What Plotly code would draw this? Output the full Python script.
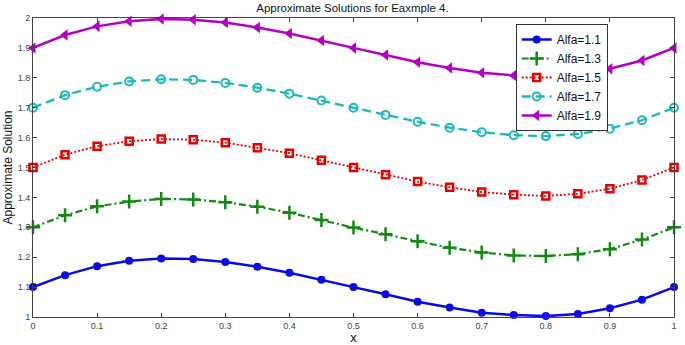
import plotly.graph_objects as go

x = [0, 0.05, 0.1, 0.15, 0.2, 0.25, 0.3, 0.35, 0.4, 0.45, 0.5,
     0.55, 0.6, 0.65, 0.7, 0.75, 0.8, 0.85, 0.9, 0.95, 1.0]

alfa_11 = [1.100, 1.140, 1.170, 1.188, 1.196, 1.194, 1.184, 1.168, 1.148, 1.125, 1.100,
           1.076, 1.051, 1.032, 1.014, 1.007, 1.003, 1.010, 1.029, 1.058, 1.100]
alfa_13 = [1.300, 1.340, 1.370, 1.386, 1.395, 1.393, 1.384, 1.369, 1.349, 1.324, 1.299,
           1.277, 1.253, 1.232, 1.216, 1.206, 1.204, 1.210, 1.227, 1.259, 1.300]
alfa_15 = [1.500, 1.543, 1.571, 1.588, 1.595, 1.593, 1.583, 1.566, 1.548, 1.524, 1.500,
           1.476, 1.453, 1.434, 1.418, 1.409, 1.405, 1.412, 1.429, 1.458, 1.500]
alfa_17 = [1.700, 1.742, 1.770, 1.788, 1.795, 1.793, 1.783, 1.767, 1.747, 1.724, 1.700,
           1.676, 1.653, 1.633, 1.618, 1.608, 1.605, 1.612, 1.630, 1.658, 1.700]
alfa_19 = [1.900, 1.943, 1.972, 1.989, 1.997, 1.994, 1.985, 1.968, 1.948, 1.925, 1.900,
           1.876, 1.852, 1.833, 1.817, 1.808, 1.805, 1.812, 1.830, 1.858, 1.900]

x_ticks = [0, 0.1, 0.2, 0.3, 0.4, 0.5, 0.6, 0.7, 0.8, 0.9, 1]
x_tick_labels = ["0", "0.1", "0.2", "0.3", "0.4", "0.5", "0.6", "0.7", "0.8", "0.9", "1"]
y_ticks = [1, 1.1, 1.2, 1.3, 1.4, 1.5, 1.6, 1.7, 1.8, 1.9, 2]
y_tick_labels = ["1", "1.1", "1.2", "1.3", "1.4", "1.5", "1.6", "1.7", "1.8", "1.9", "2"]

BLUE, GREEN, RED, CYAN, MAGENTA = "#0a0ae6", "#128a12", "#e60000", "#1fb8b8", "#b400c4"

series = [
    ("Alfa=1.1", alfa_11, BLUE, "solid",
     dict(symbol="circle", size=8, color=BLUE), 2.5),
    ("Alfa=1.3", alfa_13, GREEN, "7px,3px,2px,3px",
     dict(symbol="cross-thin", size=10, color=GREEN, line=dict(color=GREEN, width=2.5)), 2.2),
    ("Alfa=1.5", alfa_15, RED, "2px,2px",
     dict(symbol="square-open", size=7, color=RED, line=dict(color=RED, width=2.5)), 1.8),
    ("Alfa=1.7", alfa_17, CYAN, "9px,5px",
     dict(symbol="circle-open", size=8, color=CYAN, line=dict(color=CYAN, width=2)), 2.3),
    ("Alfa=1.9", alfa_19, MAGENTA, "solid",
     dict(symbol="triangle-left", size=10, color=MAGENTA), 2.5),
]

fig = go.Figure()
for name, ys, col, dash, marker, lw in series:
    fig.add_trace(go.Scatter(x=x, y=ys, name=name, mode="lines+markers",
                             line=dict(color=col, width=lw, dash=dash), marker=marker,
                             cliponaxis=False))

axis_common = dict(showline=True, linecolor="#444", linewidth=1, mirror="ticks",
                   ticks="inside", ticklen=4, tickcolor="#444", showgrid=False, zeroline=False,
                   automargin=False, ticklabeloverflow="allow",
                   tickfont=dict(family="Liberation Sans, Arial", size=9, color="#444"))

fig.update_layout(
    width=685, height=345,
    margin=dict(l=33, r=11, t=18, b=28),
    paper_bgcolor="white", plot_bgcolor="white",
    title=dict(text="Approximate Solutions for Eaxmple 4.", x=0.5146, xanchor="center",
               xref="container", yref="container", y=1 - 8 / 345, yanchor="middle", pad=dict(t=0),
               font=dict(family="Liberation Sans, Arial", size=11.5, color="#111")),
    font=dict(family="Liberation Sans, Arial", color="#111"),
    xaxis=dict(range=[0, 1], tickvals=x_ticks, ticktext=x_tick_labels,
               title=dict(text="x", standoff=0, font=dict(size=13)), **axis_common),
    yaxis=dict(range=[1, 2], tickvals=y_ticks, ticktext=y_tick_labels,
               title=dict(text="Approximate Solution", standoff=2, font=dict(size=12)), **axis_common),
    legend=dict(x=0.753, y=0.98, xanchor="left", yanchor="top", bgcolor="white",
                bordercolor="#333", borderwidth=1, font=dict(size=12), tracegroupgap=0,
                itemwidth=30),
    showlegend=True,
)

fig.write_html("out.html", config={"displayModeBar": False},
               post_script="document.body.style.margin='0';")
